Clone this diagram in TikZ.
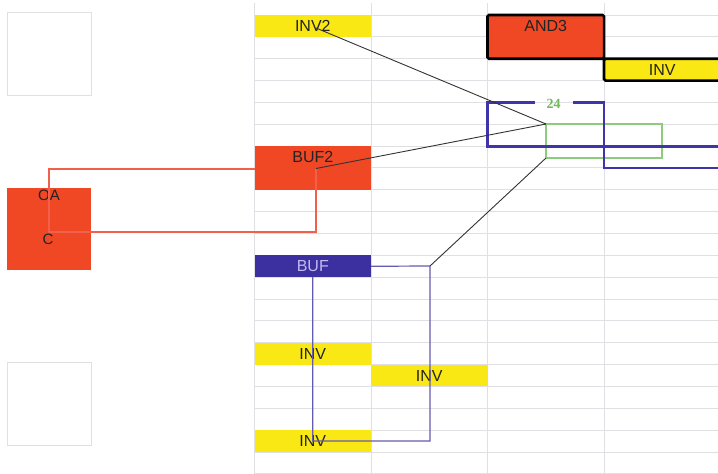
\documentclass[tikz,border=0pt]{standalone}
\usepackage{fontspec}
\setmainfont{Liberation Sans}
\newfontfamily\numfont{Liberation Serif}
\definecolor{gridc}{RGB}{224,224,228}
\definecolor{redf}{RGB}{240,72,36}
\definecolor{yel}{RGB}{250,232,20}
\definecolor{bufblue}{RGB}{60,48,160}
\definecolor{buftxt}{RGB}{196,186,240}
\definecolor{netblue}{RGB}{64,52,170}
\definecolor{thinblue}{RGB}{100,92,176}
\definecolor{grn}{RGB}{140,204,124}
\definecolor{grntxt}{RGB}{110,186,90}
\definecolor{redline}{RGB}{242,96,76}
\definecolor{txt}{RGB}{35,35,35}
\begin{document}
\begin{tikzpicture}[x=1pt,y=-1pt,
  cell/.style={rectangle, inner sep=0pt, outer sep=0pt, anchor=north west,
    minimum width=116.6pt, minimum height=21.85pt,
    font=\fontsize{16}{16}\selectfont, text=txt},
  lbl/.style={inner sep=0pt, font=\fontsize{16}{16}\selectfont, text=txt},
  thickbox/.style={draw=black, line width=2.6pt, rounded corners=1.5pt},
  gridline/.style={draw=gridc, line width=1pt},
  wire/.style={draw=black!80, line width=0.9pt},
  redwire/.style={draw=redline, line width=1.2pt},
  thinwire/.style={draw=thinblue, line width=1.2pt},
  netline/.style={draw=netblue, line width=2.8pt}]
\useasboundingbox (0,0) rectangle (718,474);
\fill[white] (0,0) rectangle (718,474);
% grid
\foreach \k in {0,...,21} \draw[gridline] (254.5,{15+21.85*\k}) -- (720,{15+21.85*\k});
\foreach \x in {254.5,371,487.5,604} \draw[gridline] (\x,3) -- (\x,476);
% empty squares at left
\node[cell, draw=gridc, line width=1pt, minimum width=84pt, minimum height=83pt] (sq1) at (7,12) {};
\node[cell, draw=gridc, line width=1pt, minimum width=84pt, minimum height=83pt] (sq2) at (7,362) {};
% OA square
\node[cell, fill=redf, minimum width=83.5pt, minimum height=82pt] (oa) at (7,188) {};
% cells
\node[cell, fill=yel] (inv2) at (254.5,15) {INV2};
\node[cell, fill=redf, thickbox, minimum height=43.7pt] (and3) at (487.5,15) {};
\node[lbl] (and3t) at (545.8,26) {AND3};
\node[cell, fill=yel, thickbox] (invtr) at (604,58.7) {INV};
\node[cell, fill=redf, minimum height=43.7pt] (buf2) at (254.5,146.1) {};
\node[lbl] (buf2t) at (312.8,157) {BUF2};
\node[cell, fill=bufblue, text=buftxt] (buf) at (254.5,255.35) {BUF};
\node[cell, fill=yel] (inv3) at (254.5,342.75) {INV};
\node[cell, fill=yel] (inv4) at (371,364.6) {INV};
\node[cell, fill=yel] (inv5) at (254.5,430.15) {INV};
% selection rectangle
\node[cell, draw=grn, line width=1.1pt, minimum width=116pt, minimum height=34pt] (sel) at (546,124) {};
% net 24 outline
\node[inner sep=0pt, text=grntxt, font=\numfont\bfseries\fontsize{14}{14}\selectfont] (n24) at (553.5,104) {24};
\coordinate (na) at (535,102.4);
\coordinate (nb) at (573,102.4);
\coordinate (nc) at (721,146.5);
\coordinate (nd) at (721,168);
\draw[netline] (na) -- (487.5,102.4) -- (487.5,146.5) -- (nc);
\draw[netline] (nb) -- (604,102.4) -- (604,168) -- (nd);
% OA labels
\node[lbl, font=\fontsize{15}{15}\selectfont] (oat) at (49,195) {OA};
\node[lbl, font=\fontsize{15}{15}\selectfont] (ct) at (48,239) {C};
% red net
\coordinate (buf2pin) at (316,168.5);
\coordinate (r1) at (49,232);
\coordinate (r2) at (49,169);
\draw[redwire] (buf2pin) |- (r1) -- (r2) -- (r2 -| buf2.west);
% blue thin net
\coordinate (bj) at (430,266);
\draw[thinwire] (buf.south) -- (buf.south |- inv5.center) -- (bj |- inv5.center) -- (bj) -- (buf.east);
% black connectors
\coordinate (inv2pin) at (316,28);
\draw[wire] (inv2pin) -- (sel.north west);
\draw[wire] (buf2pin) -- (sel.north west);
\draw[wire] (sel.south west) -- (bj);
\end{tikzpicture}
\end{document}
